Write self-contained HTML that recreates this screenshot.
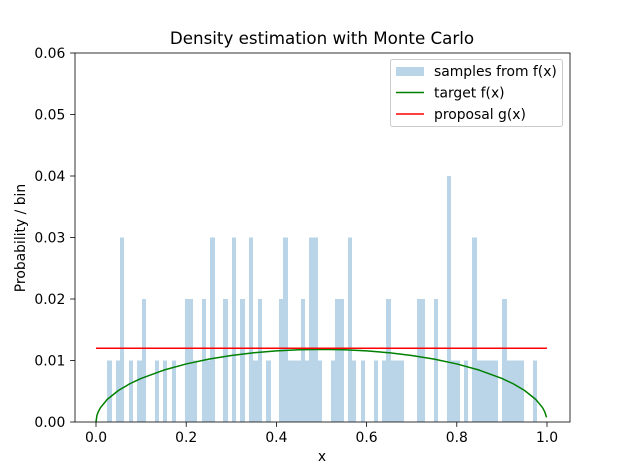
<!DOCTYPE html>
<html><head><meta charset="utf-8"><style>
body{margin:0;background:#fff;}
svg text{font-family:"DejaVu Sans","Liberation Sans",sans-serif;fill:#000;}
</style></head><body>
<svg id="chart" width="627" height="468" xmlns="http://www.w3.org/2000/svg">
<rect width="627" height="468" fill="#fff"/>
<g id="plot"></g>
</svg>
<script>
// Histogram bins (left edge, right edge in x units) and probabilities per bin
const binLeft = [0.0244,0.0443,0.0532,0.0732,0.0909,0.1020,0.1308,0.1486,0.1685,0.1973,0.2151,0.2350,0.2439,0.2528,0.2816,0.3016,0.3193,0.3392,0.3481,0.3592,0.3769,0.4058,0.4146,0.4257,0.4545,0.4634,0.4723,0.4922,0.5211,0.5299,0.5588,0.5676,0.5876,0.6164,0.6341,0.6430,0.6541,0.7118,0.7494,0.7783,0.7871,0.8160,0.8337,0.8448,0.9002,0.9113,0.9690];
const binRight = [0.0355,0.0532,0.0621,0.0820,0.1020,0.1109,0.1397,0.1574,0.1774,0.2151,0.2239,0.2439,0.2528,0.2639,0.2927,0.3104,0.3304,0.3481,0.3592,0.3681,0.3880,0.4146,0.4257,0.4545,0.4634,0.4723,0.4922,0.5011,0.5299,0.5499,0.5676,0.5765,0.5965,0.6253,0.6430,0.6541,0.6829,0.7295,0.7583,0.7871,0.8071,0.8248,0.8448,0.8914,0.9113,0.9490,0.9778];
const binProb = [0.01,0.01,0.03,0.01,0.01,0.02,0.01,0.01,0.01,0.02,0.01,0.02,0.01,0.03,0.02,0.03,0.02,0.03,0.01,0.02,0.01,0.02,0.03,0.01,0.02,0.01,0.03,0.01,0.01,0.02,0.03,0.01,0.01,0.01,0.01,0.02,0.01,0.02,0.02,0.04,0.01,0.01,0.03,0.01,0.02,0.01,0.01];
// target f(x) curve
const targetX = [0,0.002,0.005,0.01,0.025,0.05,0.075,0.1,0.15,0.2,0.25,0.3,0.35,0.4,0.45,0.5,0.55,0.6,0.65,0.7,0.75,0.8,0.85,0.9,0.925,0.95,0.975,0.99,0.995,0.999];
const targetY = [0,0.00105,0.00166,0.00235,0.00368,0.00514,0.00622,0.00708,0.00843,0.00944,0.01022,0.01081,0.01126,0.01156,0.01174,0.0118,0.01174,0.01156,0.01126,0.01081,0.01022,0.00944,0.00843,0.00708,0.00622,0.00514,0.00368,0.00235,0.00166,0.00075];
// proposal g(x)
const proposalX = [0,1];
const proposalY = [0.012,0.012];
const xTicks = [0,0.2,0.4,0.6,0.8,1.0];
const xTickLabels = ["0.0","0.2","0.4","0.6","0.8","1.0"];
const yTicks = [0,0.01,0.02,0.03,0.04,0.05,0.06];
const yTickLabels = ["0.00","0.01","0.02","0.03","0.04","0.05","0.06"];

const L=75,R=570,T=53,B=422;
const sx=v=>96+(v-0)*451;
const sy=v=>B-(v/0.06)*(B-T);
const NS="http://www.w3.org/2000/svg";
const g=document.getElementById('plot');
function mk(tag,attrs,parent){const e=document.createElementNS(NS,tag);for(const k in attrs)e.setAttribute(k,attrs[k]);(parent||g).appendChild(e);return e;}

for(let i=0;i<binLeft.length;i++){
  const r=mk('rect',{x:sx(binLeft[i]),y:sy(binProb[i]),width:sx(binRight[i])-sx(binLeft[i]),height:B-sy(binProb[i]),fill:'#bad4e8'});
  
  
}
let d=targetX.map((x,i)=>(i?'L':'M')+sx(x)+','+sy(targetY[i])).join(' ');
const tl=mk('path',{d:d,fill:'none',stroke:'#008000','stroke-width':1.5,'stroke-linejoin':'round'});


d=proposalX.map((x,i)=>(i?'L':'M')+sx(x)+','+sy(proposalY[i])).join(' ');
const pl=mk('path',{d:d,fill:'none',stroke:'#ff0000','stroke-width':1.5});



const frame=mk('rect',{x:L,y:T,width:R-L,height:B-T,fill:'none',stroke:'#000','stroke-width':0.8});



xTicks.forEach((v,i)=>{
  mk('line',{x1:sx(v),x2:sx(v),y1:B,y2:B+4.9,stroke:'#000','stroke-width':0.8});
  const t=mk('text',{x:sx(v),y:B+20,'text-anchor':'middle','font-size':'13.9'});
  t.textContent=xTickLabels[i];
  
  
});
yTicks.forEach((v,i)=>{
  mk('line',{x1:L-4.9,x2:L,y1:sy(v),y2:sy(v),stroke:'#000','stroke-width':0.8});
  const t=mk('text',{x:L-9.7,y:sy(v)+5,'text-anchor':'end','font-size':'13.9'});
  t.textContent=yTickLabels[i];
  
  
});
let t=mk('text',{x:322,y:44,'text-anchor':'middle','font-size':'16.7'});t.textContent='Density estimation with Monte Carlo';


t=mk('text',{x:322,y:461,'text-anchor':'middle','font-size':'13.9'});t.textContent='x';


t=mk('text',{x:0,y:0,'text-anchor':'middle','font-size':'13.9',transform:'translate(25,238) rotate(-90)'});t.textContent='Probability / bin';



// legend
const lg=mk('g',{});


mk('rect',{x:390.5,y:59.5,width:172,height:67,rx:2,fill:'#fff','fill-opacity':0.8,stroke:'#ccc'},lg);
const entries=[['samples from f(x)','bar','#bad4e8'],['target f(x)','line','#008000'],['proposal g(x)','line','#ff0000']];
entries.forEach((e,i)=>{
  const y=71+i*21.5;
  const eg=mk('g',{},lg);
  
  
  if(e[1]==='bar') mk('rect',{x:396,y:y-4,width:28,height:9,fill:e[2]},eg);
  else mk('line',{x1:396,x2:424,y1:y,y2:y,stroke:e[2],'stroke-width':1.5},eg);
  const tt=mk('text',{x:434,y:y+5,'font-size':'13.9'},eg);tt.textContent=e[0];
});
</script>
</body></html>
